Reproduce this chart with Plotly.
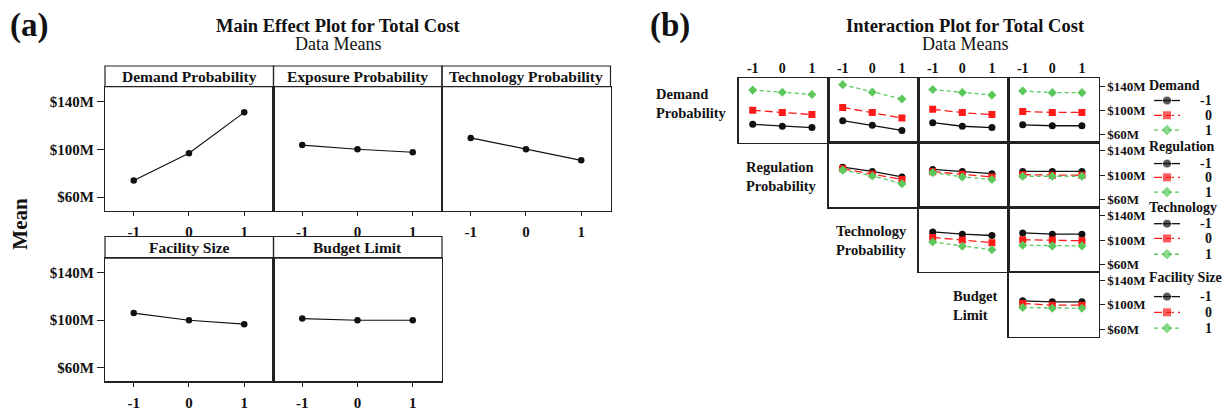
import plotly.graph_objects as go

W, H = 1228, 411
FONT = "Liberation Serif"

levels = [-1, 0, 1]
tick_vals = [60, 100, 140]
tick_text = ["$60M", "$100M", "$140M"]

# ---------------- (a) main effects ----------------
main_titles = ["Demand Probability", "Exposure Probability", "Technology Probability",
               "Facility Size", "Budget Limit"]
main_demand = [74.0, 96.7, 130.8]
main_exposure = [103.5, 100.0, 97.5]
main_technology = [109.5, 100.0, 90.8]
main_facility = [106.0, 100.0, 96.7]
main_budget = [101.4, 100.0, 100.0]

# ---------------- (b) interactions (rows: trace level -1, 0, 1) ----------------
demand_x_regulation = [[77.3, 74.1, 72.0], [100.3, 96.5, 93.3], [133.5, 130.0, 126.3]]
demand_x_technology = [[83.2, 75.7, 67.2], [105.1, 96.5, 87.5], [142.4, 130.1, 118.9]]
demand_x_facility = [[80.0, 74.1, 72.0], [101.9, 96.5, 93.3], [134.4, 129.6, 125.3]]
demand_x_budget = [[76.5, 74.9, 74.9], [98.4, 96.8, 96.8], [132.0, 129.3, 129.3]]
regulation_x_technology = [[113.3, 106.4, 97.3], [110.7, 101.6, 93.1], [108.5, 98.9, 86.1]]
regulation_x_facility = [[109.6, 106.4, 102.7], [105.9, 101.6, 97.3], [104.3, 97.3, 93.1]]
regulation_x_budget = [[106.4, 106.4, 106.4], [101.0, 100.0, 100.0], [98.4, 98.4, 98.4]]
technology_x_facility = [[113.3, 109.6, 107.5], [104.3, 100.0, 95.7], [96.8, 89.9, 84.0]]
technology_x_budget = [[111.7, 109.6, 109.6], [100.5, 100.0, 98.9], [91.5, 90.4, 90.4]]
facility_x_budget = [[106.6, 105.0, 105.0], [102.2, 99.4, 99.4], [95.6, 94.5, 94.5]]

row_labels = ["Demand<br>Probability", "Regulation<br>Probability",
              "Technology<br>Probability", "Budget<br>Limit"]
legend_titles = ["Demand", "Regulation", "Technology", "Facility Size"]
level_labels = ["-1", "0", "1"]

interaction_grid = [
    [demand_x_regulation, demand_x_technology, demand_x_facility, demand_x_budget],
    [None, regulation_x_technology, regulation_x_facility, regulation_x_budget],
    [None, None, technology_x_facility, technology_x_budget],
    [None, None, None, facility_x_budget],
]

# styles per level
BLACK, RED, GREEN = "#111111", "#ff1a1a", "#5cc85c"
styles = [
    dict(color=BLACK, dash="solid", symbol="circle"),
    dict(color=RED, dash="8px,4px", symbol="square"),
    dict(color=GREEN, dash="4px,3px", symbol="diamond"),
]


def fx(p):
    return p / W


def fy(p):
    return 1 - p / H


fig = go.Figure()
layout = dict(width=W, height=H, autosize=False, margin=dict(l=0, r=0, t=0, b=0),
              paper_bgcolor="white", plot_bgcolor="white", showlegend=False,
              font=dict(family=FONT, color="#111"))
shapes, annotations = [], []
LINEC = "#222222"
ax_i = [0]


def new_axes(xdom, ydom, xrange, yrange, xargs, yargs):
    ax_i[0] += 1
    n = ax_i[0]
    xn = "xaxis" if n == 1 else f"xaxis{n}"
    yn = "yaxis" if n == 1 else f"yaxis{n}"
    xr = "x" if n == 1 else f"x{n}"
    yr = "y" if n == 1 else f"y{n}"
    xa = dict(domain=[fx(xdom[0]), fx(xdom[1])], range=xrange, anchor=yr,
              showgrid=False, zeroline=False, showline=True, mirror=True,
              linecolor=LINEC, linewidth=1.2, fixedrange=True)
    ya = dict(domain=[fy(ydom[1]), fy(ydom[0])], range=yrange, anchor=xr,
              showgrid=False, zeroline=False, showline=True, mirror=True,
              linecolor=LINEC, linewidth=1.2, fixedrange=True)
    xa.update(xargs)
    ya.update(yargs)
    layout[xn] = xa
    layout[yn] = ya
    return xr, yr


# ---------- panel (a) ----------
main_series = [main_demand, main_exposure, main_technology, main_facility, main_budget]
a_cols = [105, 273.5, 442, 610.5]
a_rows = [(67, 88, 214), (240, 262, 387)]
for k, (title, vals) in enumerate(zip(main_titles, main_series)):
    r, c = divmod(k, 3)
    x0, x1 = a_cols[c], a_cols[c + 1]
    top, stripb, bot = a_rows[r]
    xargs = dict(tickvals=levels, ticktext=["-1", "0", "1"], ticks="outside", ticklen=4,
                 tickcolor=LINEC, ticklabelstandoff=3,
                 tickfont=dict(family=FONT, size=15, weight="bold", color="#111"))
    if c == 0:
        yargs = dict(tickvals=tick_vals, ticktext=tick_text, ticks="outside", ticklen=7,
                     tickcolor=LINEC, tickfont=dict(family=FONT, size=15, weight="bold", color="#111"))
    else:
        yargs = dict(showticklabels=False, ticks="")
    xr, yr = new_axes((x0, x1), (stripb, bot), [-1.52, 1.53], [48.6, 152.2], xargs, yargs)
    fig.add_trace(go.Scatter(x=levels, y=vals, mode="lines+markers", xaxis=xr, yaxis=yr,
                             line=dict(color=BLACK, width=1.2),
                             marker=dict(color=BLACK, size=6.5, symbol="circle")))
    shapes.append(dict(type="rect", xref="paper", yref="paper", x0=fx(x0), x1=fx(x1),
                       y0=fy(stripb), y1=fy(top), line=dict(color=LINEC, width=1.2)))
    annotations.append(dict(text=title, xref="paper", yref="paper", x=fx((x0 + x1) / 2),
                            y=fy((top + stripb) / 2), showarrow=False, xanchor="center",
                            yanchor="middle", font=dict(family=FONT, size=15.5, weight="bold")))

annotations += [
    dict(text="(a)", x=fx(8), y=fy(26), xanchor="left", yanchor="middle",
         font=dict(family=FONT, size=33, weight="bold")),
    dict(text="Main Effect Plot for Total Cost", x=fx(338), y=fy(26), xanchor="center",
         yanchor="middle", font=dict(family=FONT, size=18.5, weight="bold")),
    dict(text="Data Means", x=fx(338), y=fy(45), xanchor="center", yanchor="middle",
         font=dict(family=FONT, size=18)),
    dict(text="Mean", x=fx(20), y=fy(227), xanchor="center", yanchor="middle",
         textangle=-90, font=dict(family=FONT, size=21, weight="bold")),
]

# ---------- panel (b) ----------
b_left, b_cw = 738.5, 90.0
b_top, b_rh = 79.0, 65.75
for r in range(4):
    for c in range(4):
        data = interaction_grid[r][c]
        if data is None:
            continue
        x0 = b_left + b_cw * c
        y0 = b_top + b_rh * r
        if r == 0:
            xargs = dict(side="top", tickvals=levels, ticktext=["-1", "0", "1"], ticks="",
                         ticklabelstandoff=-2,
                         tickfont=dict(family=FONT, size=14, weight="bold", color="#111"))
        else:
            xargs = dict(showticklabels=False, ticks="")
        if c == 3:
            yargs = dict(side="right", tickvals=tick_vals, ticktext=tick_text, ticks="outside",
                         ticklen=5, tickcolor=LINEC,
                         tickfont=dict(family=FONT, size=13, weight="bold", color="#111"))
        else:
            yargs = dict(showticklabels=False, ticks="")
        xr, yr = new_axes((x0, x0 + b_cw), (y0, y0 + b_rh), [-1.48, 1.56], [47.2, 153.6],
                          xargs, yargs)
        for lv in range(3):
            st = styles[lv]
            fig.add_trace(go.Scatter(x=levels, y=data[lv], mode="lines+markers",
                                     xaxis=xr, yaxis=yr,
                                     line=dict(color=st["color"], width=1.3, dash=st["dash"]),
                                     marker=dict(color=st["color"], size=7, symbol=st["symbol"])))

# row labels
label_pos = [(729, 105), (819, 179), (909, 244), (999, 310)]
for txt, (lx, ly) in zip(row_labels, label_pos):
    annotations.append(dict(text=txt, x=fx(lx), y=fy(ly), xanchor="right", yanchor="middle",
                            align="left", font=dict(family=FONT, size=14.5, weight="bold")))

annotations += [
    dict(text="(b)", x=fx(648), y=fy(26), xanchor="left", yanchor="middle",
         font=dict(family=FONT, size=33, weight="bold")),
    dict(text="Interaction Plot for Total Cost", x=fx(965), y=fy(26), xanchor="center",
         yanchor="middle", font=dict(family=FONT, size=18.5, weight="bold")),
    dict(text="Data Means", x=fx(965), y=fy(45), xanchor="center", yanchor="middle",
         font=dict(family=FONT, size=18)),
]

# ---------- legend (drawn on a pixel-scaled helper axis) ----------
xr, yr = new_axes((1140, 1228), (0, H), [1140, 1228], [H, 0],
                  dict(visible=False, showline=False), dict(visible=False, showline=False))
leg_title_y = [87, 149, 211, 282]
leg_item_y = [[102, 117, 132], [166, 180, 195], [227, 242, 258], [301, 317, 333]]
for g in range(4):
    annotations.append(dict(text=legend_titles[g], x=fx(1147), y=fy(leg_title_y[g]),
                            xanchor="left", yanchor="middle",
                            font=dict(family=FONT, size=14, weight="bold")))
    for lv in range(3):
        st = styles[lv]
        yy = leg_item_y[g][lv]
        fig.add_trace(go.Scatter(x=[1154, 1167, 1180], y=[yy, yy, yy], mode="lines+markers",
                                 xaxis=xr, yaxis=yr, hoverinfo="skip",
                                 line=dict(color=st["color"], width=1.3, dash=st["dash"]),
                                 marker=dict(color=st["color"], size=[0, 9, 0], symbol=st["symbol"])))
        annotations.append(dict(text=level_labels[lv], x=fx(1214), y=fy(yy), xanchor="right",
                                yanchor="middle", font=dict(family=FONT, size=14, weight="bold")))

for a in annotations:
    a.setdefault("xref", "paper")
    a.setdefault("yref", "paper")
    a.setdefault("showarrow", False)
layout["shapes"] = shapes
layout["annotations"] = annotations
fig.update_layout(**layout)
fig.write_html("out.html", config={"displayModeBar": False, "staticPlot": True},
               post_script="document.body.style.margin='0px';document.body.style.overflow='hidden';")
